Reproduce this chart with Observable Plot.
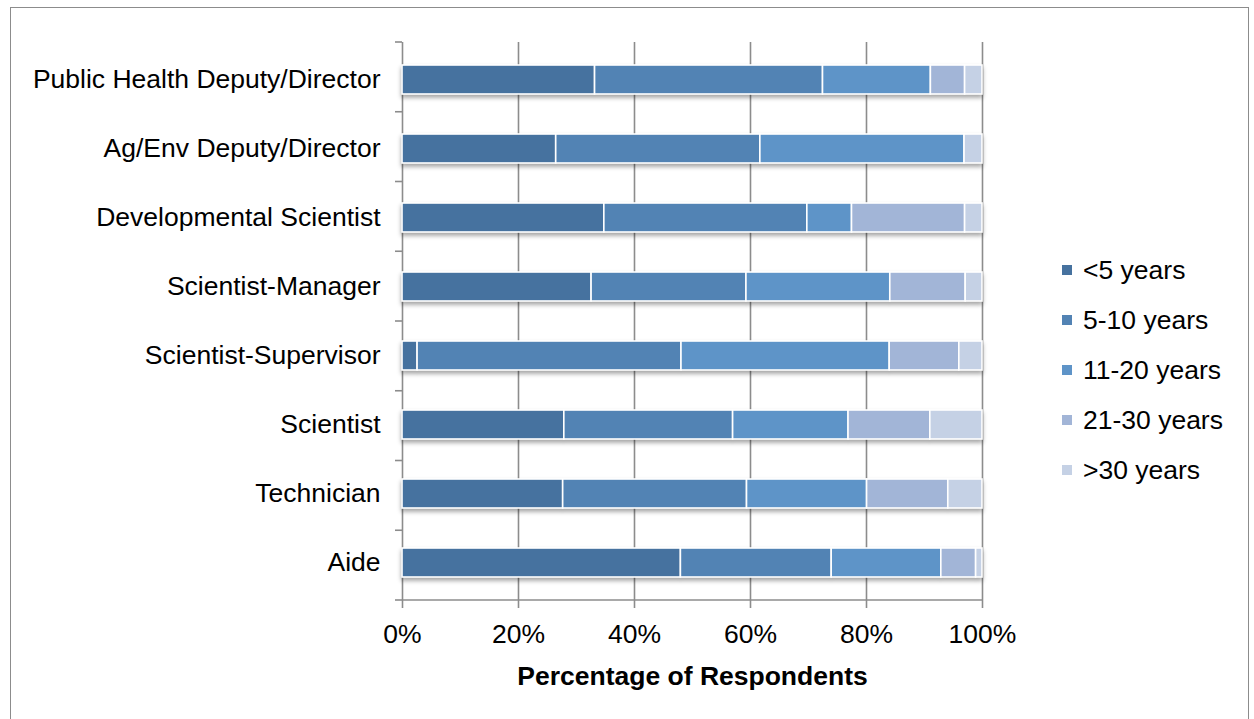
<!DOCTYPE html>
<html>
<head>
<meta charset="utf-8">
<script src="https://cdn.jsdelivr.net/npm/d3@7"></script>
<script src="https://cdn.jsdelivr.net/npm/@observablehq/plot@0.6"></script>
<style>
  html, body { margin: 0; padding: 0; background: #fff; }
  body { width: 1254px; height: 719px; position: relative; overflow: hidden; font-family: "Liberation Sans", Arial, sans-serif; }
  #border { position: absolute; left: 10px; top: 7px; width: 1239px; height: 730px; border: 1.5px solid #8c8c8c; box-sizing: border-box; }
  #chart { position: absolute; left: 0; top: 0; }
  #chart svg { overflow: visible; }
  g[aria-label="bar"] { filter: drop-shadow(0px 3px 2px rgba(0,0,0,0.35)); }
  g[aria-label="x-axis label"] text { font-weight: bold; }
  #legend { position: absolute; left: 1062px; top: 245px; font-size: 26.5px; color: #000; }
  #legend .row { height: 50px; display: flex; align-items: center; }
  #legend .sw { width: 10px; height: 10px; margin-right: 11px; }
</style>
</head>
<body>
<div id="border"></div>
<div id="chart"></div>
<div id="legend"></div>
<script>
const categories = ["Public Health Deputy/Director","Ag/Env Deputy/Director","Developmental Scientist","Scientist-Manager","Scientist-Supervisor","Scientist","Technician","Aide"];
const groups = ["<5 years","5-10 years","11-20 years","21-30 years",">30 years"];
const under5  = [33.2, 26.5, 34.8, 32.6,  2.6, 27.9, 27.7, 48.0];
const y5to10  = [39.3, 35.2, 35.0, 26.7, 45.5, 29.1, 31.7, 26.0];
const y11to20 = [18.6, 35.2,  7.7, 24.8, 35.9, 19.9, 20.7, 18.9];
const y21to30 = [ 5.9,  0.0, 19.5, 13.0, 12.0, 14.1, 14.0,  6.0];
const over30  = [ 3.0,  3.1,  3.0,  2.9,  4.0,  9.0,  5.9,  1.1];
const colors = ["#46729f","#5283b4","#5e94c8","#a2b5d7","#c5d1e5"];
const xTicks = [0, 20, 40, 60, 80, 100];
const gridTicks = [20, 40, 60, 80, 100];
const xTitle = "Percentage of Respondents";

const series = [under5, y5to10, y11to20, y21to30, over30];
const data = [];
categories.forEach((c, i) => {
  groups.forEach((g, j) => data.push({category: c, group: g, value: series[j][i]}));
});

const W = 1254, H = 719, mL = 402, mR = 272, mT = 42, mB = 119;

const chart = Plot.plot({
  width: W, height: H,
  marginLeft: mL, marginRight: mR, marginTop: mT, marginBottom: mB,
  style: {fontFamily: "'Liberation Sans', Arial, sans-serif", fontSize: "26.5px", color: "#000", background: "transparent"},
  x: {domain: [0, 100], ticks: xTicks, tickFormat: d => d + "%", tickSize: 8, tickPadding: 16,
      label: xTitle, labelAnchor: "center", labelOffset: 84},
  y: {domain: categories, paddingInner: 0.58, paddingOuter: 0.29, tickSize: 0, tickPadding: 22, label: null},
  color: {domain: groups, range: colors},
  marks: [
    Plot.ruleX(gridTicks, {stroke: "#8c8c8c", strokeWidth: 1.6, strokeOpacity: 1}),
    Plot.ruleX([0], {stroke: "#8c8c8c", strokeWidth: 1.6, strokeOpacity: 1}),
    Plot.barX(data, Plot.stackX({x: "value", y: "category", fill: "group", stroke: "white", strokeWidth: 1.6, order: null}))
  ]
});
document.getElementById("chart").appendChild(chart);

const svg = d3.select(chart);
// remove the direction arrow from the axis title
svg.selectAll("g[aria-label='x-axis label'] text").text(xTitle);

// axis line at bottom and category boundary ticks, from the plot's own scales
const xs = chart.scale("x");
const x0 = xs.apply(0), x1 = xs.apply(100);
const yTop = mT, yBot = H - mB;
svg.selectAll("g[aria-label='x-axis tick'] path").attr("stroke", "#8c8c8c").attr("stroke-width", 1.6).attr("stroke-opacity", 1);
const extra = svg.append("g").attr("stroke", "#8c8c8c").attr("stroke-width", 1.6);
extra.append("line").attr("x1", x0).attr("x2", x1).attr("y1", yBot).attr("y2", yBot);
const step = (yBot - yTop) / categories.length;
d3.range(categories.length + 1).forEach(i => {
  const yy = yTop + i * step;
  extra.append("line").attr("x1", x0 - 7).attr("x2", x0).attr("y1", yy).attr("y2", yy);
});
svg.selectAll("g[aria-label='x-axis tick label'] text, g[aria-label='y-axis tick label'] text").attr("fill", "#000");

// legend
const legend = d3.select("#legend");
groups.forEach((g, j) => {
  const row = legend.append("div").attr("class", "row");
  row.append("div").attr("class", "sw").style("background", colors[j]);
  row.append("span").text(g);
});
</script>
</body>
</html>
